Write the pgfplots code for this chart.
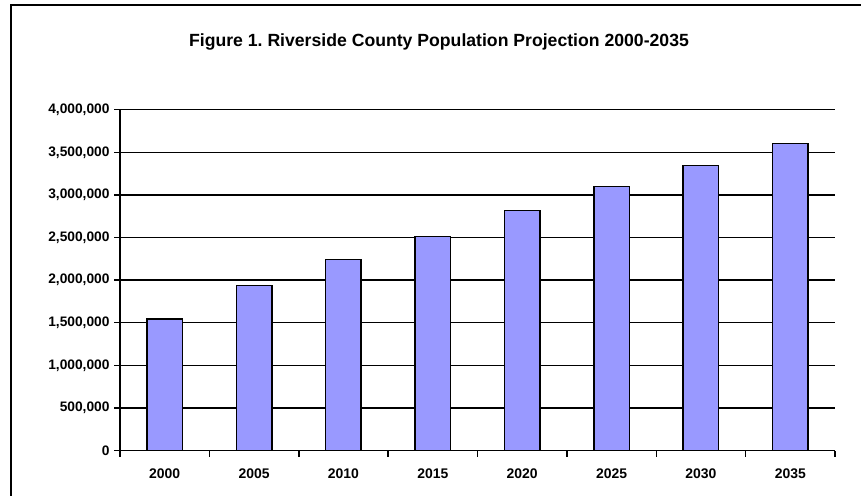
\documentclass[border=0pt]{standalone}
\usepackage{fontspec}
\setmainfont{Liberation Sans}
\usepackage{pgfplots}
\pgfplotsset{compat=1.18}
\definecolor{barblue}{HTML}{9999FF}
\frenchspacing
\begin{document}
\begin{tikzpicture}[x=1bp,y=1bp]
\useasboundingbox (0,0) rectangle (861,-496);
\draw[line width=2bp] (11,-496) -- (11,-5.3) -- (861,-5.3);
\node[font=\fontsize{17.7}{19}\selectfont\bfseries] at (439,-42) {Figure 1. Riverside County Population Projection 2000-2035};
\begin{axis}[
  at={(120bp,-450.5bp)}, anchor=south west,
  scale only axis, width=715bp, height=340.8bp,
  xmin=-0.5, xmax=7.5, ymin=0, ymax=4000000,
  axis lines*=left,
  axis line style={line width=1.5bp},
  xtick={0,...,7},
  xticklabels={2000,2005,2010,2015,2020,2025,2030,2035},
  minor xtick={-0.5,0.5,...,7.5},
  major x tick style={draw=none},
  minor tick length=6bp,
  major tick length=6bp,
  tick align=outside,
  tick style={line width=1.5bp, black},
  ytick={0,500000,...,4000000},
  ymajorgrids,
  grid style={line width=1.5bp, black},
  scaled y ticks=false,
  yticklabel style={/pgf/number format/fixed, /pgf/number format/1000 sep={,}, /pgf/number format/assume math mode=true, font=\fontsize{13.8}{15}\selectfont\bfseries, xshift=-1bp},
  xticklabel style={font=\fontsize{14}{15}\selectfont\bfseries, yshift=-9bp},
  ybar, bar width=35.5bp,
  clip=false,
]
\addplot[fill=barblue, draw=black, line width=1.5bp] coordinates {
  (0,1545000) (1,1937000) (2,2239000) (3,2509000)
  (4,2814000) (5,3096000) (6,3347000) (7,3606000)
};
\end{axis}
\end{tikzpicture}
\end{document}
